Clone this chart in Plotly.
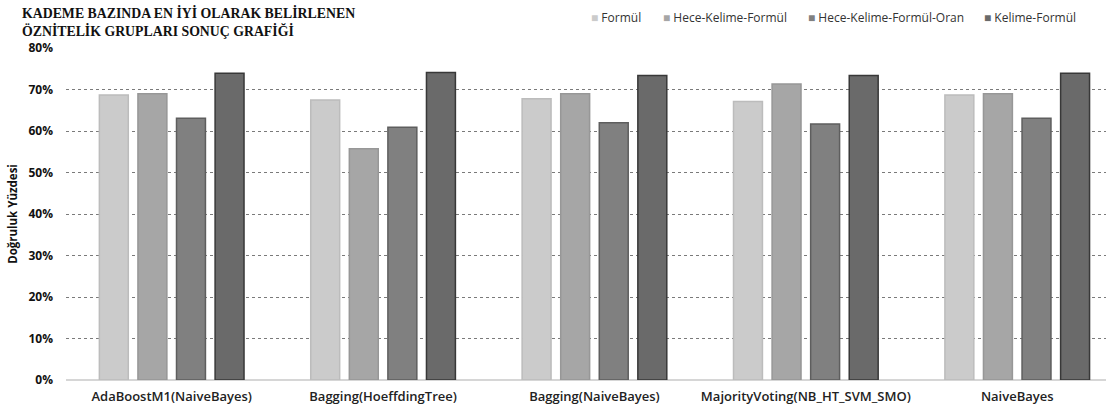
import plotly.graph_objects as go

# Classifier configurations on the x axis
categories = [
    "AdaBoostM1(NaiveBayes)",
    "Bagging(HoeffdingTree)",
    "Bagging(NaiveBayes)",
    "MajorityVoting(NB_HT_SVM_SMO)",
    "NaiveBayes",
]

# Accuracy (fraction) per feature group
formul = [0.687, 0.675, 0.678, 0.671, 0.687]
hece_kelime_formul = [0.690, 0.557, 0.690, 0.713, 0.690]
hece_kelime_formul_oran = [0.631, 0.609, 0.620, 0.617, 0.631]
kelime_formul = [0.739, 0.741, 0.734, 0.734, 0.739]

series_names = ["Formül", "Hece-Kelime-Formül", "Hece-Kelime-Formül-Oran", "Kelime-Formül"]
series_values = [formul, hece_kelime_formul, hece_kelime_formul_oran, kelime_formul]
fill_colors = ["#cbcbcb", "#a6a6a6", "#808080", "#6a6a6a"]
edge_colors = ["#bcbcbc", "#979797", "#5e5e5e", "#383838"]

y_ticks = [0, 0.1, 0.2, 0.3, 0.4, 0.5, 0.6, 0.7, 0.8]

PLOT_L, PLOT_W, PLOT_T, PLOT_H = 66, 1040, 48, 332

fig = go.Figure()
for name, vals, fc, ec in zip(series_names, series_values, fill_colors, edge_colors):
    fig.add_trace(go.Bar(
        x=categories, y=vals, name=name,
        marker=dict(color=fc, line=dict(color=ec, width=1.5)),
        showlegend=False,
    ))

# Legend drawn as a row of coloured square glyphs + labels
legend_x = [589, 661, 806, 982]
annotations = []
for name, fc, lx in zip(series_names, fill_colors, legend_x):
    annotations.append(dict(
        xref="paper", yref="paper", x=(lx - PLOT_L) / PLOT_W, y=1 + (PLOT_T - 18) / PLOT_H,
        xanchor="left", yanchor="middle", showarrow=False,
        text=f"<span style='color:{fc}'>■</span> {name}",
        font=dict(family="Open Sans, sans-serif", size=12, color="#333333"),
    ))

# Two-line chart title
annotations.append(dict(
    xref="paper", yref="paper", x=(20 - PLOT_L) / PLOT_W, y=1 + (PLOT_T - 3) / PLOT_H,
    xanchor="left", yanchor="top", showarrow=False, align="left",
    text="<b>KADEME BAZINDA EN İYİ OLARAK BELİRLENEN<br>ÖZNİTELİK GRUPLARI SONUÇ GRAFİĞİ</b>",
    font=dict(family="Liberation Serif, Times New Roman, serif", size=13.8, color="#111111"),
))

fig.update_layout(
    width=1106, height=410,
    margin=dict(l=PLOT_L, r=0, t=PLOT_T, b=30, autoexpand=False),
    paper_bgcolor="white", plot_bgcolor="white",
    barmode="group", bargap=0.27, bargroupgap=0.25,
    annotations=annotations,
    xaxis=dict(
        range=[-0.5, 4.42], showgrid=False, showline=False, ticks="",
        tickfont=dict(family="Open Sans, sans-serif", size=13, color="#222222", weight=600),
        ticklabelstandoff=7,
    ),
    yaxis=dict(
        range=[0, 0.8], tickvals=y_ticks, tickformat=".0%",
        showgrid=True, gridcolor="#7a7a7a", griddash="dot", gridwidth=1,
        zeroline=True, zerolinecolor="#d6d6d6", zerolinewidth=1.5,
        showline=False, ticks="",
        tickfont=dict(family="Open Sans, sans-serif", size=12, color="#111111", weight="bold"),
        ticklabelstandoff=12,
        title=dict(
            text="Doğruluk Yüzdesi",
            font=dict(family="Open Sans, sans-serif", size=11.5, color="#111111", weight="bold"),
            standoff=8,
        ),
    ),
)

fig.write_html("out.html")
